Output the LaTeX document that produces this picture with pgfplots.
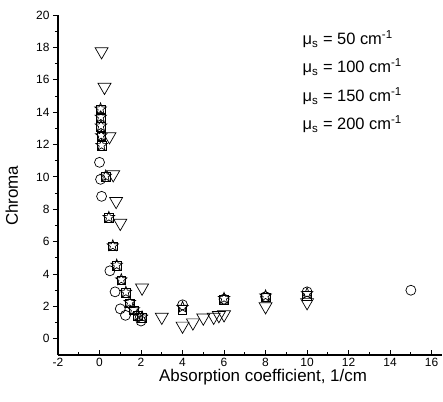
\documentclass[border=0pt]{standalone}
\usepackage{fontspec}
\setmainfont{Liberation Sans}
\usepackage{pgfplots}
\pgfplotsset{compat=1.18}
\pgfdeclareplotmark{ostar}{%
  \pgfpathmoveto{\pgfpointpolar{90}{\pgfplotmarksize}}%
  \pgfpathlineto{\pgfpointpolar{126}{0.42\pgfplotmarksize}}%
  \pgfpathlineto{\pgfpointpolar{162}{\pgfplotmarksize}}%
  \pgfpathlineto{\pgfpointpolar{198}{0.42\pgfplotmarksize}}%
  \pgfpathlineto{\pgfpointpolar{234}{\pgfplotmarksize}}%
  \pgfpathlineto{\pgfpointpolar{270}{0.42\pgfplotmarksize}}%
  \pgfpathlineto{\pgfpointpolar{306}{\pgfplotmarksize}}%
  \pgfpathlineto{\pgfpointpolar{342}{0.42\pgfplotmarksize}}%
  \pgfpathlineto{\pgfpointpolar{18}{\pgfplotmarksize}}%
  \pgfpathlineto{\pgfpointpolar{54}{0.42\pgfplotmarksize}}%
  \pgfpathclose
  \pgfusepathqstroke
}
\begin{document}
\begin{tikzpicture}
\useasboundingbox (-58bp,-47bp) rectangle (385bp,355bp);
\begin{axis}[
  scale only axis,
  width=384bp, height=340bp,
  xmin=-2, xmax=16.5, ymin=-1, ymax=20,
  axis lines=left,
  axis line style={-, line width=1.2bp},
  xtick={-2,0,...,16}, ytick={0,2,...,20},
  minor x tick num=1, minor y tick num=1,
  xtick align=inside, ytick align=outside,
  major tick length=5bp, minor tick length=3bp,
  every tick/.style={black, line width=0.9bp},
  tick label style={font=\fontsize{12}{14}\selectfont},
  /pgf/number format/assume math mode=true,
  xlabel={Absorption coefficient, 1/cm},
  ylabel={Chroma},
  label style={font=\fontsize{17}{19}\selectfont},
  xlabel style={at={(axis description cs:0.534,-0.065)}, anchor=center},
  ylabel style={at={(axis description cs:-0.12,0.468)}, anchor=center, rotate=0},
  clip=false,
]
% circles
\addplot[only marks, mark=o, mark size=5bp, black, line width=0.7bp] coordinates {
(0,10.9) (0.05,9.85) (0.1,8.8) (0.5,4.2) (0.75,2.9) (1.0,1.85) (1.25,1.45) (2,1.1) (4,2.1) (6,2.45) (8,2.6) (10,2.9) (15,3.0)
};
% squares
\addplot[only marks, mark=square, mark size=4.3bp, black, line width=0.7bp] coordinates {
(0.05,14.15) (0.06,13.66) (0.07,13.1) (0.08,12.5) (0.1,11.9) (0.3,10.0) (0.45,7.47) (0.64,5.7) (0.83,4.5) (1.05,3.6) (1.27,2.84) (1.46,2.2) (1.65,1.75) (1.86,1.4) (2.05,1.3) (4,1.8) (6,2.4) (8,2.55) (10,2.65)
};
% stars
\addplot[only marks, mark=ostar, mark size=6bp, black, line width=0.7bp] coordinates {
(0.05,14.2) (0.06,13.7) (0.07,13.15) (0.08,12.55) (0.1,11.95) (0.3,10.05) (0.45,7.5) (0.64,5.75) (0.83,4.55) (1.05,3.65) (1.27,2.88) (1.46,2.25) (1.65,1.8) (1.86,1.45) (2.05,1.35) (4,1.95) (6,2.5) (8,2.65) (10,2.8)
};
% triangles down
\addplot[only marks, mark=triangle, mark size=7.5bp, black, line width=0.7bp,
  mark options={rotate=180}] coordinates {
(0.1,17.75) (0.24,15.55) (0.48,12.5) (0.66,10.15) (0.8,8.5) (1.0,7.15) (2.05,3.15) (3,1.35) (4,0.8) (4.5,1.0) (5.0,1.3) (5.5,1.35) (5.75,1.45) (6,1.5) (8,2.0) (10,2.25)
};
\node[anchor=base west, font=\fontsize{16.5}{18}\selectfont, inner sep=0pt] at (axis cs:9.78,18.17) {μ\textsubscript{s} = 50 cm\textsuperscript{-1}};
\node[anchor=base west, font=\fontsize{16.5}{18}\selectfont, inner sep=0pt] at (axis cs:9.78,16.44) {μ\textsubscript{s} = 100 cm\textsuperscript{-1}};
\node[anchor=base west, font=\fontsize{16.5}{18}\selectfont, inner sep=0pt] at (axis cs:9.78,14.65) {μ\textsubscript{s} = 150 cm\textsuperscript{-1}};
\node[anchor=base west, font=\fontsize{16.5}{18}\selectfont, inner sep=0pt] at (axis cs:9.78,12.92) {μ\textsubscript{s} = 200 cm\textsuperscript{-1}};
\end{axis}
\end{tikzpicture}
\end{document}
